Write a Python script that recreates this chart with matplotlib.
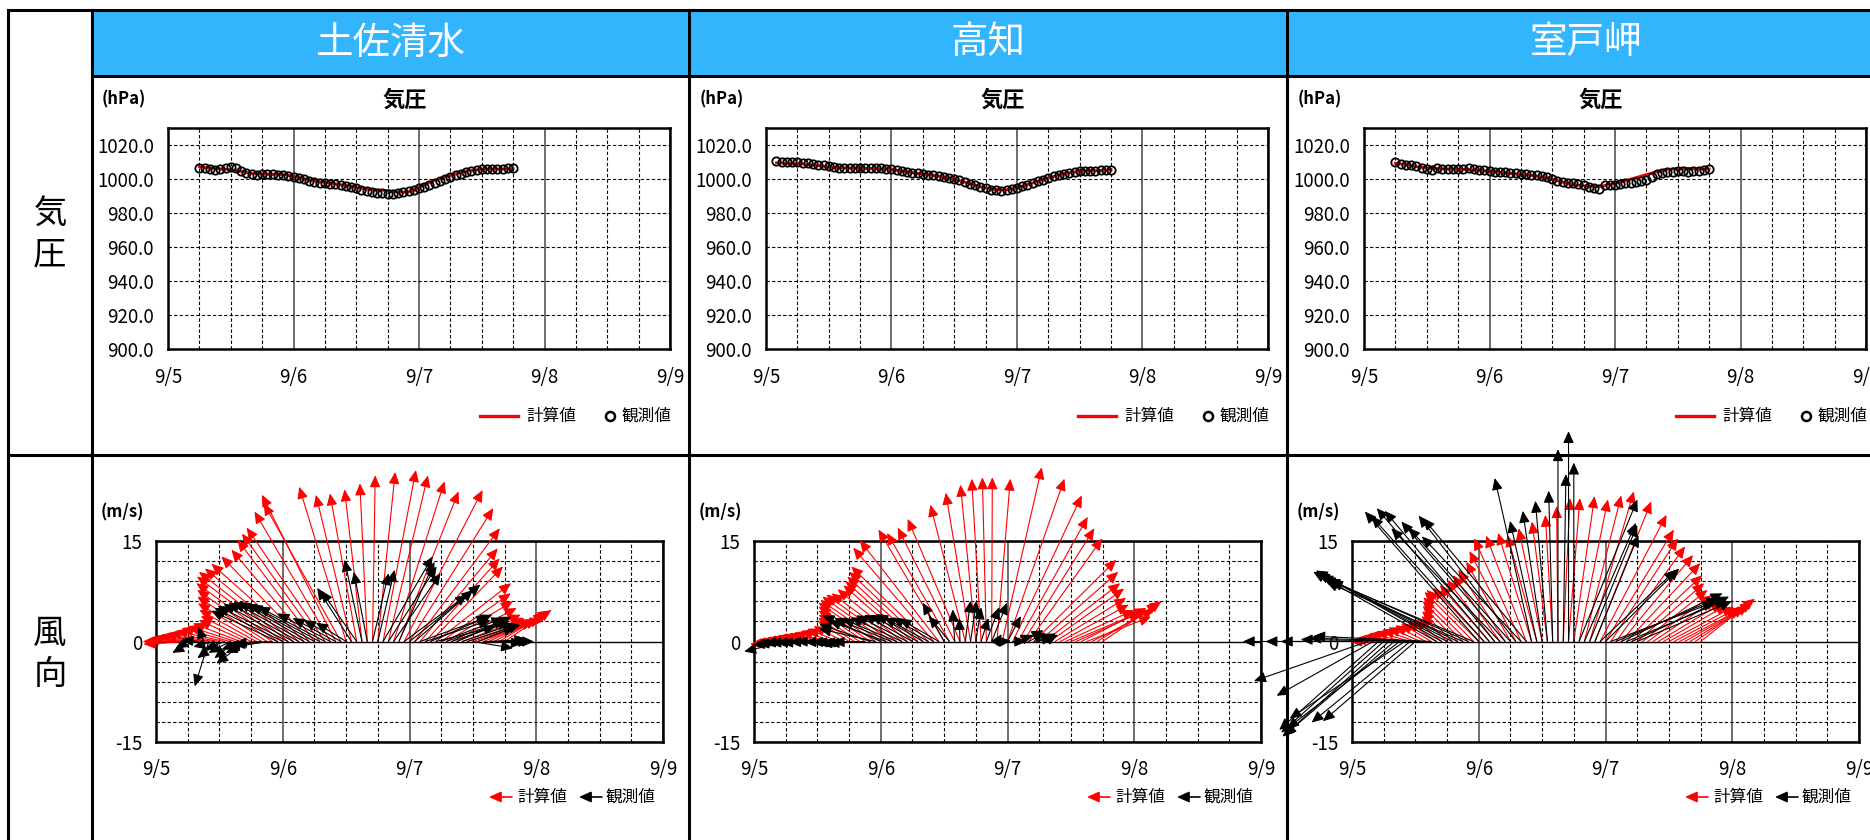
import matplotlib
matplotlib.use("Agg")
import matplotlib.pyplot as plt
from matplotlib.patches import FancyArrowPatch, Rectangle
from matplotlib.ticker import MultipleLocator

plt.rcParams["font.family"] = ["Noto Sans CJK JP", "DejaVu Sans"]

W, H = 1870, 840
RED = "#ff0000"
HEAD_BLUE = "#33b5fe"

stations = ["土佐清水", "高知", "室戸岬"]
day_ticks = [5, 6, 7, 8, 9]
day_labels = ["9/5", "9/6", "9/7", "9/8", "9/9"]
p_ticks = [900, 920, 940, 960, 980, 1000, 1020]
w_ticks = [-15, 0, 15]

# hourly records; start hours count from 9/5 00:00
tosa_p_start = 6
tosa_p_calc = [1007.0, 1006.6, 1006.2, 1005.9, 1005.7, 1005.5, 1005.2, 1004.8, 1004.2, 1003.6,
               1003.1, 1002.8, 1002.7, 1002.6, 1002.6, 1002.5, 1002.3, 1001.9, 1001.3, 1000.6,
               999.9, 999.2, 998.6, 998.1, 997.7, 997.3, 996.9, 996.4, 995.9, 995.3,
               994.8, 994.3, 993.8, 993.5, 993.3, 993.1, 993.0, 992.6, 992.2, 992.0,
               992.3, 993.3, 994.8, 996.2, 997.6, 998.9, 1000.0, 1001.0, 1001.9, 1002.7,
               1003.5, 1004.2, 1004.8, 1005.2, 1005.5, 1005.6, 1005.6, 1005.6, 1005.6, 1005.7,
               1005.9]
tosa_p_obs = [1006.5, 1006.0, 1005.5, 1005.3, 1005.6, 1006.0, 1007.0, 1006.0, 1004.5, 1003.5,
              1002.8, 1002.3, 1002.5, 1002.6, 1002.6, 1002.4, 1002.2, 1001.8, 1001.2, 1000.3,
              999.5, 998.8, 998.0, 997.6, 997.2, 997.0, 996.8, 996.3, 995.6, 995.0,
              994.3, 993.6, 992.8, 992.2, 991.7, 991.3, 991.0, 991.0, 991.4, 991.9,
              992.5, 993.2, 994.2, 995.3, 996.5, 997.6, 998.7, 999.8, 1000.9, 1002.0,
              1003.0, 1003.9, 1004.6, 1005.1, 1005.4, 1005.6, 1005.7, 1005.8, 1005.8, 1006.0,
              1006.3]

kochi_p_start = 2
kochi_p_calc = [1009.3, 1009.1, 1009.0, 1008.9,
                1008.8, 1008.6, 1008.3, 1008.0, 1007.6, 1007.2, 1006.9, 1006.6, 1006.4, 1006.3,
                1006.2, 1006.1, 1006.1, 1006.0, 1006.0, 1005.9, 1005.8, 1005.6, 1005.3, 1004.9,
                1004.4, 1003.9, 1003.5, 1003.1, 1002.7, 1002.3, 1001.9, 1001.4, 1000.9, 1000.3,
                999.6, 998.8, 997.9, 997.0, 996.1, 995.3, 994.6, 994.0, 993.6, 993.4,
                993.5, 993.9, 994.6, 995.5, 996.5, 997.5, 998.5, 999.5, 1000.4, 1001.3,
                1002.1, 1002.8, 1003.4, 1003.9, 1004.2, 1004.4, 1004.5, 1004.6, 1004.7, 1004.9,
                1005.2]
kochi_p_obs = [1010.3, 1010.0, 1009.8, 1009.6,
               1009.5, 1009.3, 1009.0, 1008.6, 1008.2, 1007.7, 1007.2, 1006.8, 1006.5, 1006.3,
               1006.2, 1006.2, 1006.2, 1006.2, 1006.1, 1006.1, 1006.0, 1005.8, 1005.5, 1005.0,
               1004.5, 1004.0, 1003.5, 1003.1, 1002.7, 1002.3, 1001.9, 1001.5, 1001.0, 1000.4,
               999.7, 998.9, 998.0, 997.0, 996.0, 995.0, 994.2, 993.5, 993.1, 993.0,
               993.2, 993.7, 994.5, 995.4, 996.4, 997.4, 998.4, 999.4, 1000.4, 1001.3,
               1002.1, 1002.8, 1003.4, 1003.9, 1004.3, 1004.5, 1004.6, 1004.7, 1004.8, 1005.0,
               1005.3]

muroto_p_start = 6
muroto_p_calc = [1009.0, 1008.6, 1008.2, 1007.7, 1007.1, 1006.6, 1006.2, 1006.0, 1005.9, 1005.8,
                 1005.7, 1005.6, 1005.5, 1005.4, 1005.3, 1005.1, 1004.9, 1004.6, 1004.3, 1004.0,
                 1003.7, 1003.4, 1003.1, 1002.8, 1002.5, 1002.2, 1001.9, 1001.5, 1001.0, 1000.4,
                 999.6, 998.8, 998.0, 997.3, 996.7, 996.2, 995.8, 995.5, 995.4, 995.5,
                 995.9, 996.5, 997.2, 998.0, 998.8, 999.7, 1000.6, 1001.5, 1002.4, 1003.2,
                 1004.0, 1004.7, 1005.3, 1005.7, 1006.0, 1006.1, 1006.0, 1005.8, 1005.6, 1005.6,
                 1005.7]
muroto_p_obs = [1009.7, 1008.8, 1008.2, 1007.8, 1007.2, 1006.4, 1005.8, 1005.2, 1006.2, 1005.9,
                1005.6, 1005.8, 1005.8, 1005.9, 1006.0, 1005.6, 1005.2, 1004.8, 1004.3, 1004.0,
                1003.8, 1003.6, 1003.3, 1003.1, 1002.9, 1002.6, 1002.3, 1002.0, 1001.6, 1001.0,
                1000.0, 998.6, 997.9, 997.6, 997.2, 996.6, 996.1, 995.2, 994.6, 994.0,
                996.1, 996.3, 996.1, 996.6, 997.3, 997.6, 998.2, 998.8, 999.4, 1001.0,
                1002.5, 1003.2, 1003.6, 1004.0, 1004.3, 1004.2, 1003.9, 1004.2, 1004.5, 1005.0,
                1005.8]

# wind vectors (m/s): u eastward, v northward; (calc start, obs start) hours
tosa_wind_start = (6, 6)
tosa_u_calc = [-6.6, -7.5, -7.6, -7.6, -7.5, -7.4, -7.4, -7.3, -7.2, -7.1, -7.1, -7.0,
               -7.5, -8.5, -9.5, -10.4, -11.2, -12.1, -12.8, -13.3, -13.2, -13.0, -12.3, -11.6,
               -11.5, -11.6, -11.7, -11.3, -11.0, -11.5, -7.0, -5.3, -4.0, -2.6, -1.1, 0.4,
               2.6, 4.9, 5.9, 7.6, 8.9, 11.7, 12.5, 12.7, 11.6, 11.1, 10.8, 11.2,
               10.4, 9.9, 9.7, 9.5, 9.3, 9.4, 9.1, 8.9, 8.7, 8.5, 8.0, 7.5, 7.0]
tosa_v_calc = [-0.4, 0.0, 0.3, 0.5, 0.8, 1.0, 1.3, 1.6, 2.0, 2.3, 2.7, 3.2,
               3.8, 4.7, 5.7, 6.7, 7.7, 8.7, 9.7, 10.4, 10.9, 11.6, 12.7, 13.7,
               15.2, 16.1, 17.0, 19.4, 21.9, 20.6, 23.1, 21.9, 22.1, 22.7, 23.6, 24.8,
               25.3, 25.6, 24.8, 23.9, 22.4, 22.6, 19.9, 16.9, 13.9, 12.4, 11.2, 8.7,
               7.2, 6.0, 5.0, 4.0, 3.5, 3.2, 3.0, 3.2, 3.5, 4.0, 4.2, 4.6, 4.7]
tosa_u_obs = [-1.8, -3.1, -2.5, -0.8, -2.1, -3.1, -3.3, -3.0, -3.2, -3.1, -2.8, -4.4,
              -3.8, -4.3, -4.0, -5.9, -5.8,
              -9.9, -10.2, -10.5, -10.4, -10.5, -10.5, -10.5, -10.4, -10.3, -10.0, -7.9, -6.4,
              -5.5, -4.5, -5.1, -5.3, -2.6, -2.0, 2.4, 2.5,
              7.4, 7.2, 7.0, 5.3, 9.4, 10.6, 8.7,
              10.2, 9.7, 9.2, 8.9, 9.3, 8.8, 8.6, 8.1, 7.9, 7.9,
              6.0, 5.5, 7.0, 5.6, 4.3, 4.6, 4.4]
tosa_v_obs = [-1.0, -1.7, 0.3, 2.2, -6.7, -0.8, -2.5, -1.2, -1.7, -2.5, -1.2, -3.3,
              -1.7, -0.8, -0.3, -1.0, -0.5,
              4.6, 5.0, 5.3, 5.6, 5.8, 5.9, 5.9, 5.7, 5.5, 5.2, 4.2, 3.5,
              3.2, 2.8, 8.0, 7.6, 12.2, 10.4, 10.2, 10.7,
              12.7, 11.2, 10.2, 11.9, 7.0, 8.5, 7.7,
              3.7, 3.2, 4.0, 2.2, 3.5, 3.2, 3.0, 3.7, 2.7, 2.5,
              -1.0, 2.2, 0.0, 0.3, -0.3, 0.0, 0.0]

kochi_wind_start = (6, 6)
kochi_u_calc = [-5.3, -5.5, -5.5, -5.6, -5.6, -5.6, -5.5, -5.3, -5.1, -4.8, -4.7, -4.5,
                -4.6, -5.4, -6.1, -6.9, -7.7, -8.5, -9.0, -9.5, -9.7, -9.7, -9.6, -9.5,
                -10.0, -10.5, -11.0, -11.5, -12.0, -11.8, -9.8, -9.3, -8.5, -7.8, -5.2, -3.7,
                -2.3, -1.4, -0.6, 0.1, 2.0, 5.9, 8.5, 10.3, 10.4, 10.6, 11.0, 12.3,
                11.8, 11.3, 11.1, 10.6, 10.2, 10.2, 10.4, 10.0, 9.7, 9.6, 9.3, 9.2, 8.8]
kochi_v_calc = [-0.4, -0.2, 0.0, 0.2, 0.4, 0.6, 0.8, 1.0, 1.3, 1.6, 1.9, 2.3,
                3.0, 3.5, 4.0, 4.6, 5.2, 5.8, 6.2, 6.7, 7.0, 7.2, 7.8, 8.4,
                9.0, 9.7, 10.4, 11.2, 14.0, 15.1, 16.7, 16.2, 17.0, 18.3, 20.4, 22.2,
                23.4, 24.3, 24.5, 24.5, 24.3, 26.0, 24.3, 21.8, 18.6, 16.9, 15.4, 12.2,
                10.4, 8.7, 7.9, 6.5, 5.5, 4.7, 4.4, 4.5, 5.0, 3.7, 4.8, 5.7, 6.0]
kochi_u_obs = [-6.2, -5.7, -5.8, -5.6, -5.6, -5.4, -5.4, -5.0, -4.8, -4.3, -4.1, -4.2,
               -4.3, -4.6, -4.8, -4.8,
               -7.6, -8.4, -8.7, -8.5, -8.5, -8.1, -7.6, -7.6, -7.2, -7.0, -7.0, -6.6, -6.1, -5.9,
               -3.2, -3.1, -0.3, -0.1, 0.8, 0.9, 0.8, 1.1, 1.9, 2.3,
               0.7, 1.3, 2.0, 2.0, 2.2, 3.0, 2.5, 2.9, 2.5, 2.0,
               None, None, None, None, None, None, None, None, None, None, None]
kochi_v_obs = [-1.5, -0.5, -0.4, -0.2, -0.2, -0.2, -0.2, -0.1, 0.0, -0.1, -0.1, -0.2,
               -0.4, -0.2, -0.3, -0.1,
               2.6, 1.9, 3.9, 3.1, 3.5, 3.4, 3.6, 3.9, 4.0, 4.0, 4.1, 3.6, 3.6, 3.4,
               5.8, 3.8, 4.8, 3.5, 6.1, 6.1, 5.1, 3.5, 5.1, 5.8,
               1.1, 0.1, 3.8, 0.0, 1.0, 1.7, 1.3, 0.7, 1.2, 1.0,
               None, None, None, None, None, None, None, None, None, None, None]

muroto_wind_start = (6, 0)
muroto_u_calc = [-5.0, -5.2, -5.2, -5.2, -5.3, -5.1, -4.9, -4.8, -4.6, -4.5, -4.3, -4.0,
                 -3.8, -4.5, -5.2, -6.0, -6.7, -7.3, -7.8, -7.6, -7.4, -7.1, -7.0, -7.0,
                 -6.6, -6.9, -7.0, -6.0, -5.0, -4.4, -3.5, -2.3, -1.1, -0.2, 1.0, 1.7,
                 3.1, 4.3, 5.5, 6.6, 8.4, 9.9, 10.2, 10.0, 10.3, 10.7, 11.0, 10.5,
                 10.0, 9.7, 9.5, 9.4, 9.6, 9.5, 9.7, 9.5, 9.3, 9.0, 8.8, 8.5, 8.1]
muroto_v_calc = [0.0, 0.3, 0.6, 0.9, 1.2, 1.5, 1.8, 2.1, 2.4, 2.7, 3.0, 3.3,
                 3.8, 4.5, 5.3, 6.0, 6.6, 7.4, 7.7, 8.0, 8.4, 9.2, 9.9, 10.7,
                 11.9, 13.5, 15.4, 15.8, 16.2, 15.9, 16.9, 17.9, 18.9, 20.2, 21.4, 21.4,
                 21.7, 21.2, 21.8, 22.4, 20.9, 18.9, 16.7, 15.4, 14.2, 12.9, 11.7, 9.9,
                 8.7, 7.7, 6.9, 6.3, 5.8, 5.5, 5.2, 5.0, 4.9, 5.1, 5.4, 5.9, 6.4]
muroto_u_obs = [-16.3, -13.7, -12.2, -17.0, -14.4,
                -14.8, -15.3, -15.9, -16.4, -16.8, -17.2, -14.7, -13.8,
                -17.9, -17.4, -17.6,
                -18.4, -18.8, -19.3, -19.6, -20.0, -20.4, -20.9, -21.3,
                -17.0, -16.8, -16.8, -16.4, -16.2, -15.5, -15.2, -14.5, -14.8, -15.4,
                -5.5, -4.0, -2.9, -1.8, -0.6, 0.0, 0.4, 0.0, 0.0,
                8.7, 7.7, 7.1, 6.5, 11.3, 11.0,
                15.5, 15.3, 15.1, 14.9, 14.5, 14.1]
muroto_v_obs = [0.0, 0.0, 0.0, -5.9, -8.1,
                -13.2, -13.6, -14.2, -14.0, -13.0, -11.5, -12.1, -11.9,
                0.3, 0.5, 0.8,
                10.4, 10.6, 10.2, 9.9, 9.6, 8.9, 9.3, 9.0,
                19.4, 18.7, 19.9, 19.5, 16.9, 17.9, 17.0, 18.8, 15.7, 18.4,
                24.4, 18.0, 19.5, 21.0, 22.5, 28.7, 25.0, 31.4, 26.7,
                21.2, 17.7, 17.4, 15.9, 10.7, 10.9,
                5.9, 6.5, 7.2, 6.2, 6.7, 6.0]

pressure = [(tosa_p_start, tosa_p_calc, tosa_p_obs),
            (kochi_p_start, kochi_p_calc, kochi_p_obs),
            (muroto_p_start, muroto_p_calc, muroto_p_obs)]
wind = [
    (tosa_wind_start, tosa_u_calc, tosa_v_calc, tosa_u_obs, tosa_v_obs),
    (kochi_wind_start, kochi_u_calc, kochi_v_calc, kochi_u_obs, kochi_v_obs),
    (muroto_wind_start, muroto_u_calc, muroto_v_calc, muroto_u_obs, muroto_v_obs),
]

COL_W = 598
P_BOX = (168, 127.5, 670, 349)    # left, top, right, bottom in pixels
W_BOX = (156, 541, 663, 742)
ARROW = "-|>,head_length=0.6,head_width=0.27"
TICK_FS = 13.5
LEG_FS = 12

fig = plt.figure(figsize=(W / 100, H / 100), dpi=100)


def px_axes(left, top, right, bottom):
    return fig.add_axes([left / W, 1 - bottom / H, (right - left) / W, (bottom - top) / H])


# table frame, header band and row labels
bg = fig.add_axes([0, 0, 1, 1], zorder=0)
bg.set_xlim(0, W)
bg.set_ylim(H, 0)
bg.axis("off")
bg.add_patch(Rectangle((92, 10), W - 92, 66, color=HEAD_BLUE, lw=0))
for x in [8, 92, 689, 1287]:
    bg.plot([x, x], [10, H + 5], color="black", lw=2.2)
bg.plot([8, W], [10, 10], color="black", lw=2.2)
bg.plot([92, W], [76, 76], color="black", lw=2.2)
bg.plot([8, W], [455, 455], color="black", lw=2.2)
bg.text(50, 234, "気\n圧", ha="center", va="center", fontsize=24, linespacing=1.25)
bg.text(50, 654, "風\n向", ha="center", va="center", fontsize=24, linespacing=1.25)


def style_time_axis(ax):
    ax.set_xlim(5, 9)
    ax.set_xticks(day_ticks)
    ax.set_xticklabels(day_labels)
    ax.xaxis.set_minor_locator(MultipleLocator(0.25))
    ax.grid(which="major", axis="x", color="#555555", lw=1.2, ls="-")
    ax.grid(which="minor", axis="x", color="black", lw=0.8, ls=(0, (3, 2)))
    ax.tick_params(which="both", length=0, labelsize=TICK_FS)
    ax.set_axisbelow(True)
    ax.set_facecolor("none")
    for s in ax.spines.values():
        s.set_linewidth(1.8)


for j, name in enumerate(stations):
    ox = COL_W * j
    bg.text(390 + ox, 43, name, ha="center", va="center", fontsize=27, color="white")

    # pressure panel
    p0, p_calc, p_obs = pressure[j]
    t_p = [5 + (p0 + i) / 24 for i in range(len(p_calc))]
    ax = px_axes(P_BOX[0] + ox, P_BOX[1], P_BOX[2] + ox, P_BOX[3])
    style_time_axis(ax)
    ax.set_ylim(900, 1030)
    ax.set_yticks(p_ticks)
    ax.set_yticklabels([f"{v:.1f}" for v in p_ticks])
    ax.grid(which="major", axis="y", color="black", lw=0.8, ls=(0, (3, 2)))
    ax.tick_params(axis="x", pad=13)
    ax.tick_params(axis="y", pad=10)
    ax.plot(t_p, p_calc, color=RED, lw=2.0, zorder=3)
    ax.plot(t_p, p_obs, ls="none", marker="o", ms=6, mfc="none", mec="black",
            mew=1.3, zorder=4)

    bg.text(405 + ox, 100, "気圧", ha="center", va="center", fontsize=16, fontweight="bold")
    bg.text(102 + ox, 99, "(hPa)", ha="left", va="center", fontsize=12, fontweight="bold")
    bg.plot([480 + ox, 518 + ox], [416, 416], color=RED, lw=2.4)
    bg.text(526 + ox, 416, "計算値", ha="left", va="center", fontsize=LEG_FS)
    bg.plot([610 + ox], [416], marker="o", ms=6.5, mfc="none", mec="black", mew=1.8)
    bg.text(621 + ox, 416, "観測値", ha="left", va="center", fontsize=LEG_FS)

    # wind panel
    (c0, o0), u_c, v_c, u_o, v_o = wind[j]
    ax = px_axes(W_BOX[0] + ox, W_BOX[1], W_BOX[2] + ox, W_BOX[3])
    style_time_axis(ax)
    ax.set_ylim(-15, 15)
    ax.set_yticks(w_ticks)
    ax.set_yticklabels([str(v) for v in w_ticks])
    ax.yaxis.set_minor_locator(MultipleLocator(3))
    ax.grid(which="minor", axis="y", color="black", lw=0.8, ls=(0, (3, 2)))
    ax.grid(which="major", axis="y", color="black", lw=1.0, ls="-")
    ax.tick_params(axis="x", pad=12)
    ax.tick_params(axis="y", pad=10)

    # days per m/s so that arrows keep true proportions on screen
    k = ((W_BOX[3] - W_BOX[1]) / 30) / ((W_BOX[2] - W_BOX[0]) / 4)
    for t0, us, vs, col in [(c0, u_c, v_c, RED), (o0, u_o, v_o, "black")]:
        for i, (u, v) in enumerate(zip(us, vs)):
            if u is None:
                continue
            t = 5 + (t0 + i) / 24
            arr = FancyArrowPatch((t, 0), (t + u * k, v), arrowstyle=ARROW,
                                  mutation_scale=12, color=col, lw=0.8,
                                  shrinkA=0, shrinkB=0, zorder=3)
            arr.set_clip_on(False)
            ax.add_patch(arr)
    ax.set_xlim(5, 9)
    ax.set_ylim(-15, 15)

    bg.text(101 + ox, 512, "(m/s)", ha="left", va="center", fontsize=12, fontweight="bold")
    for x_from, x_to, x_txt, col, label in [(512, 489, 517, RED, "計算値"),
                                            (602, 579, 605, "black", "観測値")]:
        bg.annotate("", xy=(x_to + ox, 797), xytext=(x_from + ox, 797),
                    arrowprops=dict(arrowstyle=ARROW, mutation_scale=12, color=col,
                                    lw=1.2, shrinkA=0, shrinkB=0))
        bg.text(x_txt + ox, 797, label, ha="left", va="center", fontsize=LEG_FS)

fig.savefig("out.png", dpi=100)
